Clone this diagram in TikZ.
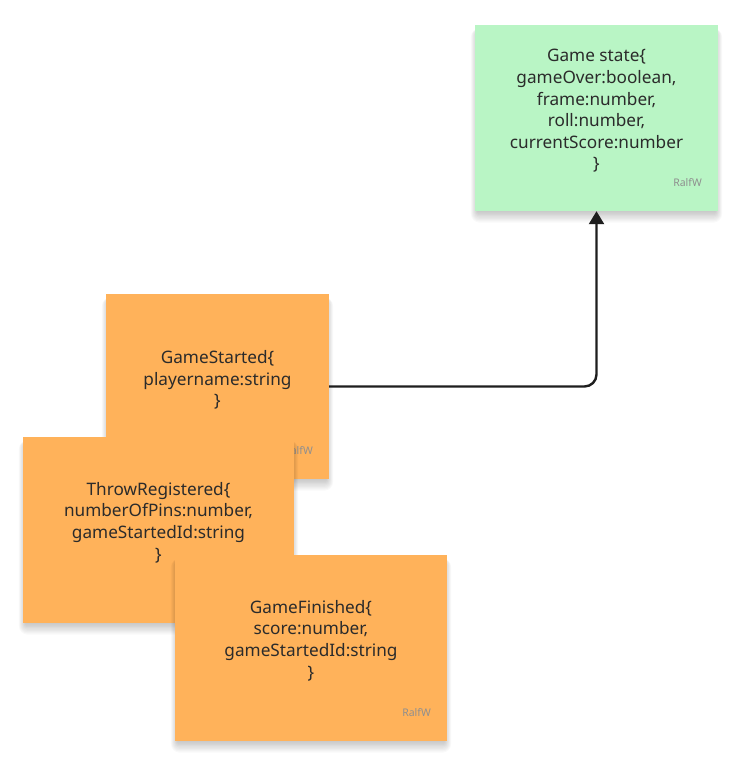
\documentclass[tikz,border=0pt]{standalone}
\usepackage{fontspec}
\setmainfont{Noto Sans}
\usetikzlibrary{arrows.meta}
\definecolor{notegreen}{HTML}{B9F5C5}
\definecolor{noteorange}{HTML}{FFB25A}
\definecolor{inktext}{HTML}{2B2B2B}
\definecolor{signgray}{HTML}{8F8F8F}
\definecolor{arrowink}{HTML}{1E1E1E}
\tikzset{
  note/.style={draw=none, rectangle, inner sep=0pt},
  notetext/.style={align=center, text=inktext, font=\fontsize{17.2}{21.6}\selectfont, inner sep=0pt},
  sign/.style={text=signgray, font=\fontsize{10.5}{12}\selectfont, inner sep=0pt, anchor=east},
  shadowlayer/.style={fill=black, fill opacity=0.022, draw=none},
  link/.style={draw=arrowink, line width=2.4pt, rounded corners=12pt, -{Triangle[width=15pt,length=13pt]}}
}
\newcommand\notesoftshadow[4]{%
  \foreach \k in {1,...,9}{
    \fill[shadowlayer, rounded corners=\k pt] (#1+3-\k*0.8, #2+6-\k*0.3) rectangle (#3-3+\k*0.8, #4+\k*1.3);
  }}
\begin{document}
\begin{tikzpicture}[x=1pt,y=-1pt]
\useasboundingbox[fill=white] (0,0) rectangle (734,774);
% Game state
\notesoftshadow{475}{25}{718}{211}
\node[note, fill=notegreen, minimum width=243pt, minimum height=186pt] (state) at (596.5,118) {};
\node[notetext] (statetext) at (596.5,111) {Game state\{\\gameOver:boolean,\\frame:number,\\roll:number,\\currentScore:number\\\}};
\node[sign] (statesign) at (702,183) {RalfW};
% GameStarted
\notesoftshadow{106}{294}{329}{479}
\node[note, fill=noteorange, minimum width=223pt, minimum height=185pt] (gs) at (217.5,386.5) {};
\node[notetext] (gstext) at (217.5,380) {GameStarted\{\\playername:string\\\}};
\node[sign] (gssign) at (313,451) {RalfW};
% ThrowRegistered
\notesoftshadow{23}{437}{294}{623}
\node[note, fill=noteorange, minimum width=271pt, minimum height=186pt] (tr) at (158.5,530) {};
\node[notetext] (trtext) at (158.5,522.5) {ThrowRegistered\{\\numberOfPins:number,\\gameStartedId:string\\\}};
% GameFinished
\notesoftshadow{175}{555}{447}{741}
\node[note, fill=noteorange, minimum width=272pt, minimum height=186pt] (gf) at (311,648) {};
\node[notetext] (gftext) at (311,640.5) {GameFinished\{\\score:number,\\gameStartedId:string\\\}};
\node[sign] (gfsign) at (431,713) {RalfW};
% connector
\draw[link] (gs.east) -| (state.south);
\end{tikzpicture}
\end{document}
